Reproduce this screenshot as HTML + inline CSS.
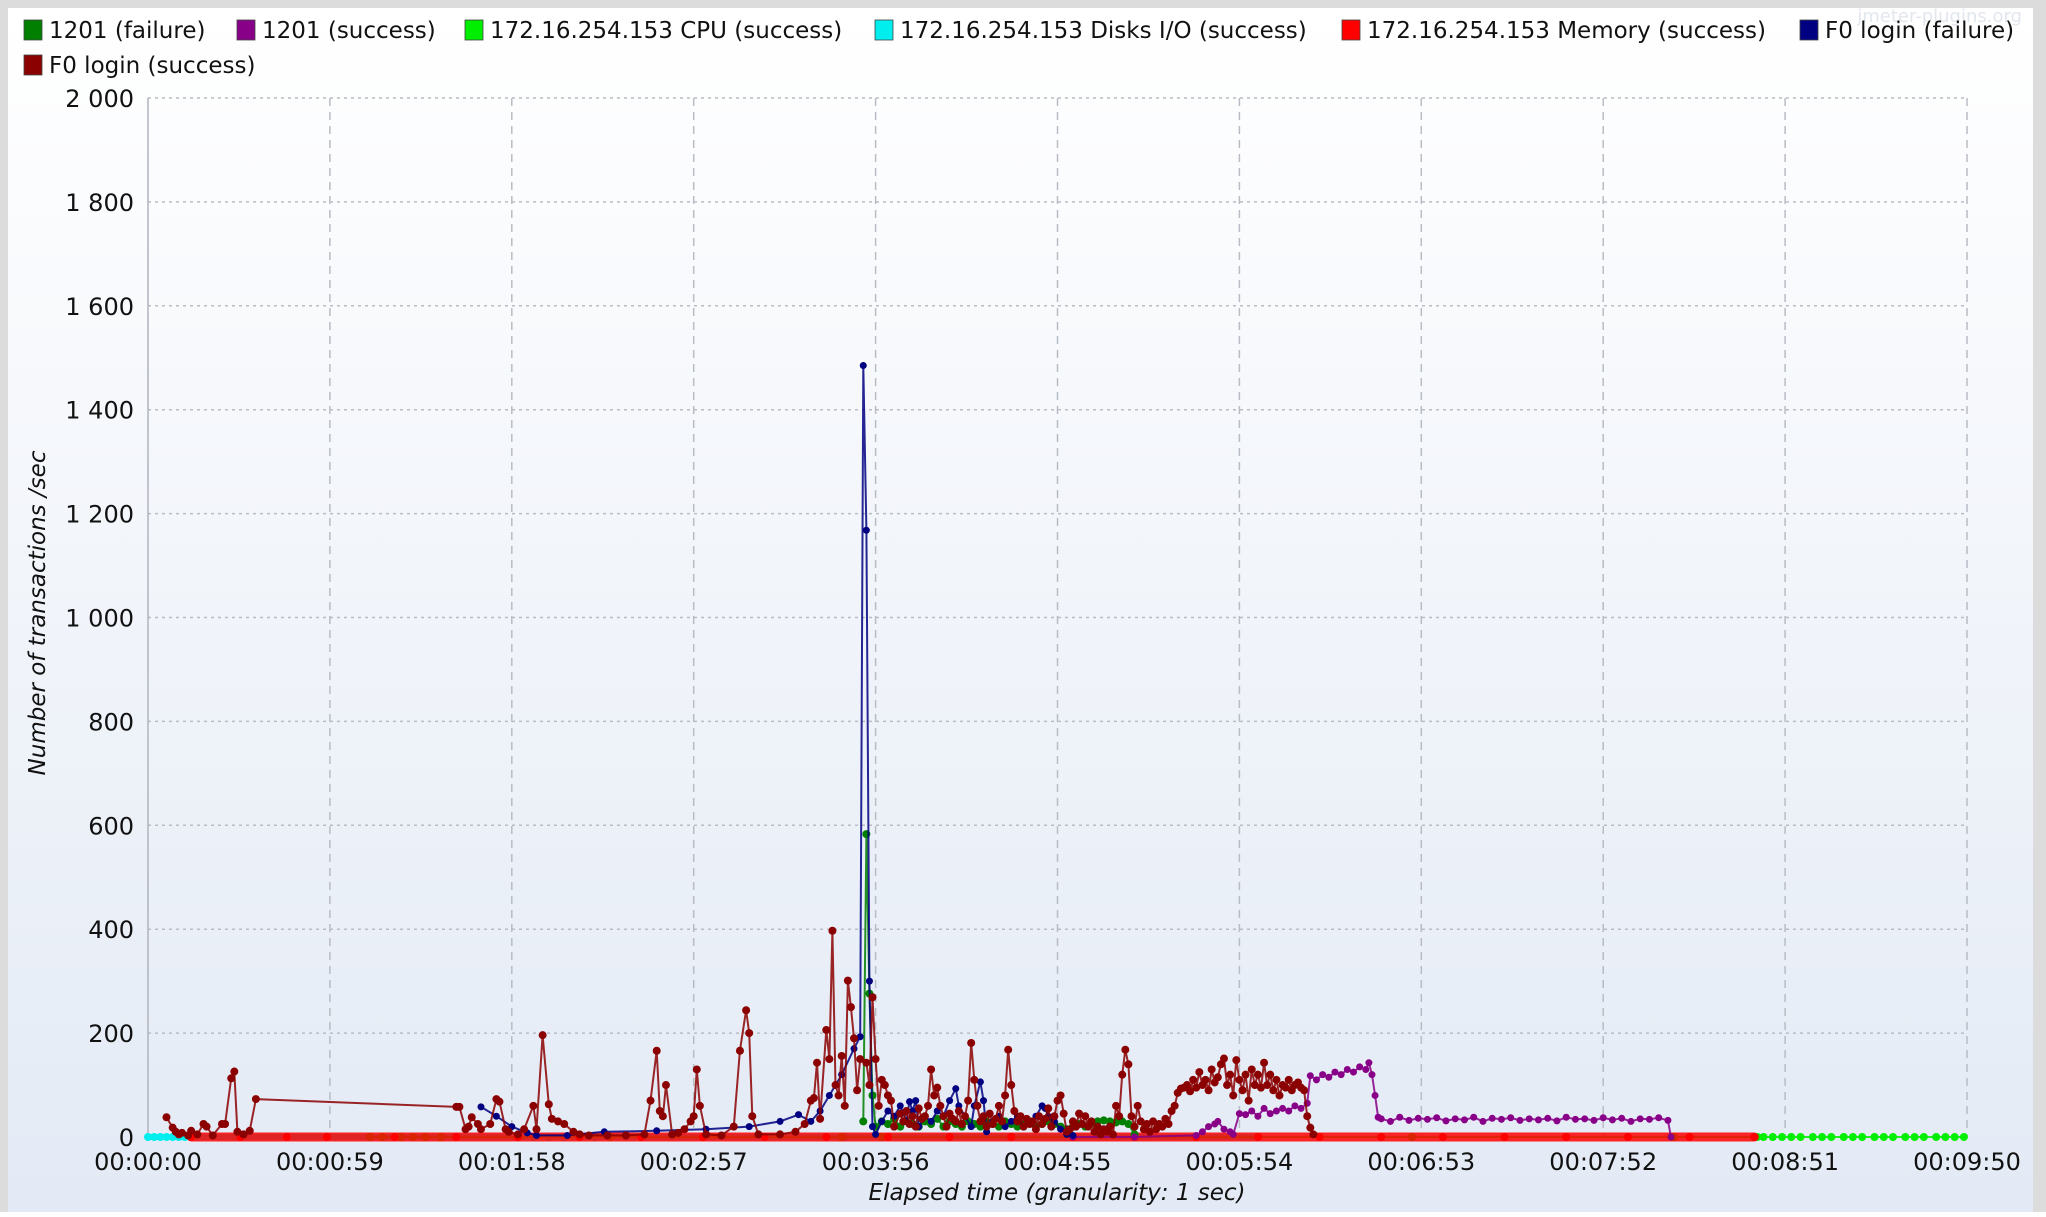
<!DOCTYPE html>
<html><head><meta charset="utf-8"><style>
html,body{margin:0;padding:0;width:2046px;height:1212px;overflow:hidden;background:#fff;}
#wrap{position:absolute;left:0;top:0;width:2046px;height:1212px;}
text{font-family:"DejaVu Sans","Liberation Sans",sans-serif;}
</style></head><body>
<div id="wrap">
<svg id="chart" width="2046" height="1212" xmlns="http://www.w3.org/2000/svg">
<defs><linearGradient id="bg" x1="0" y1="0" x2="0" y2="1"><stop offset="0" stop-color="#ffffff"/><stop offset="1" stop-color="#e3eaf5"/></linearGradient></defs>
<rect x="0" y="0" width="2046" height="1212" fill="#dcdcdc"/>
<rect x="8" y="8" width="2025" height="1204" fill="url(#bg)"/>
<text x="2022" y="22" font-size="18" fill="#e2e6ee" text-anchor="end">jmeter-plugins.org</text>
<g id="grid"></g><g id="axes"></g><g id="series"></g><g id="legend"></g>
</svg></div>
<script>
const tickTimes=[0,59,118,177,236,295,354,413,472,531,590];
const tickTimeLabels=["00:00:00","00:00:59","00:01:58","00:02:57","00:03:56","00:04:55","00:05:54","00:06:53","00:07:52","00:08:51","00:09:50"];
const yTicks=[0,200,400,600,800,1000,1200,1400,1600,1800,2000];
const yTickLabels=["0","200","400","600","800","1 000","1 200","1 400","1 600","1 800","2 000"];
const seriesNames=["1201  (failure)","1201  (success)","172.16.254.153 CPU (success)","172.16.254.153 Disks I/O (success)","172.16.254.153 Memory (success)","F0 login (failure)","F0 login (success)"];
const seriesColors=["#007f00","#880088","#00ee00","#00eeee","#ff0000","#000080","#8b0000"];

const cpuT=[72,76,82,86,90,95,150,160,225,238,410,495,522,524,527,530,533,536,540,543,546,550,553,556,560,563,566,570,573,576,580,583,586,589];
const cpuV=[0,0,0,0,0,0,0,0,0,0,0,0,0,0,0,0,0,0,0,0,0,0,0,0,0,0,0,0,0,0,0,0,0,0];
const diskT=[0,2,4,6,8,10,12,125,130,135,140,145,226,360];
const diskV=[0,0,0,0,0,0,0,0,0,0,0,0,0,0];
const memT=[14,30,45,58,80,100,120,140,160,180,200,220,240,260,280,300,320,340,360,380,400,420,440,460,480,500,521];
const memV=[0,0,0,0,0,0,0,0,0,0,0,0,0,0,0,0,0,0,0,0,0,0,0,0,0,0,0];
const f1T=[232,233,234,235,236,238,240,242,244,246,248,250,252,254,256,258,260,262,264,266,268,270,272,274,276,278,280,282,284,286,288,290,292,294,296,298,300,302,304,306,308,310,312,314,316,318,320];
const f1V=[30,583,276,80,20,30,25,35,20,30,25,20,30,25,35,20,30,25,20,30,25,20,30,25,20,30,25,20,25,30,20,25,30,25,20,15,20,25,20,28,30,32,30,28,30,25,5];
const s1T=[300,320,340,342,344,346,347,349,351,352,354,356,358,360,362,364,366,368,370,372,374,376,377,379,381,383,385,387,389,391,393,395,396,397,398,399,400,403,406,409,412,415,418,421,424,427,430,433,436,439,442,445,448,451,454,457,460,463,466,469,472,475,478,481,484,487,490,493,494];
const s1V=[0,0,3,10,20,25,30,15,10,5,45,43,50,40,55,45,50,55,50,60,55,65,118,110,120,115,125,120,130,125,135,130,143,120,80,38,35,30,38,32,36,34,37,31,35,33,38,30,36,34,37,32,35,33,36,31,38,34,35,32,37,33,36,30,35,34,37,32,0];
const f0fT=[108,113,118,123,126,136,148,165,181,195,205,211,215,218,221,225,229,231,232,233,234,235,236,238,240,242,244,246,247,248,249,250,252,254,256,258,260,262,263,265,267,268,270,271,272,274,276,278,280,282,284,286,288,290,291,292,294,296,298,300];
const f0fV=[58,40,20,8,3,3,10,12,15,20,30,43,30,50,80,120,170,193,1485,1168,300,20,5,30,50,40,60,30,68,50,70,20,40,30,50,40,70,93,60,40,20,60,106,70,10,30,40,20,30,40,20,30,40,60,55,40,30,15,5,3];
const f0sT=[6,8,9,10,11,13,14,16,18,19,21,24,25,27,28,29,31,33,35,100,101,103,104,105,107,108,111,113,114,116,117,120,122,125,126,128,130,131,133,135,138,140,143,149,155,161,163,165,166,167,168,170,172,174,176,177,178,179,181,186,190,192,194,195,196,198,205,210,213,215,216,217,218,220,221,222,223,224,225,226,227,228,229,230,231,233,234,235,236,237,238,239,240,241,242,244,245,246,247,248,249,250,251,252,253,254,255,256,257,258,259,260,261,262,263,264,265,266,267,268,269,270,271,272,273,274,275,276,277,278,279,280,281,282,283,284,285,286,287,288,289,290,291,292,293,294,295,296,297,298,299,300,301,302,303,304,305,306,307,308,309,310,311,312,313,314,315,316,317,318,319,320,321,322,323,324,325,326,327,328,329,330,331,332,333,334,335,336,337,338,339,340,341,342,343,344,345,346,347,348,349,350,351,352,353,354,355,356,357,358,359,360,361,362,363,364,365,366,367,368,369,370,371,372,373,374,375,376,377,378];
const f0sV=[38,18,10,5,8,3,12,5,25,20,3,25,25,113,126,10,5,12,73,58,58,15,20,38,25,15,25,73,68,15,10,5,15,60,15,196,63,35,30,25,10,5,3,3,3,5,70,166,50,40,100,5,8,15,30,40,130,60,5,3,20,166,244,200,40,5,5,10,25,70,75,143,35,206,150,397,100,80,156,60,301,250,190,90,150,143,100,269,150,60,110,100,80,70,20,45,30,50,25,40,20,55,35,40,60,130,80,95,60,40,20,45,35,30,50,25,40,70,181,110,60,30,40,20,45,25,35,60,30,80,168,100,50,30,40,20,35,25,30,15,40,25,35,55,20,40,70,80,45,10,15,30,20,45,25,40,20,30,10,20,5,15,10,20,5,60,40,120,168,140,40,20,60,30,15,25,10,30,15,25,20,35,25,50,60,85,93,95,100,88,110,95,125,100,110,90,130,105,115,140,151,100,120,80,148,110,90,120,70,130,100,120,95,143,100,120,90,110,80,100,95,110,90,100,105,95,90,40,18,5];

const NS="http://www.w3.org/2000/svg";
const X0=148,X1=1967,Y0=1137,Y1=98,TMAX=590,VMAX=2000;
function xs(t){return X0+(X1-X0)*t/TMAX;}
function ys(v){return Y0-(Y0-Y1)*v/VMAX;}
function mk(tag,attrs,parent){const e=document.createElementNS(NS,tag);for(const k in attrs)e.setAttribute(k,attrs[k]);parent.appendChild(e);return e;}
const grid=document.getElementById('grid'),axes=document.getElementById('axes'),ser=document.getElementById('series'),leg=document.getElementById('legend');

yTicks.forEach((v,i)=>{
  if(v>0){const l=mk('line',{x1:X0,x2:X1,y1:ys(v),y2:ys(v),stroke:'#b8bcc4','stroke-width':1.5,'stroke-dasharray':'3,4'},grid);
  
  }
  const t=mk('text',{x:X0-14,y:ys(v)+9,'font-size':24,'text-anchor':'end',fill:'#111'},axes);t.textContent=yTickLabels[i];
  
  
});
tickTimes.forEach((s,i)=>{
  if(s>0){const l=mk('line',{x1:xs(s),x2:xs(s),y1:Y1,y2:Y0,stroke:'#b8bcc4','stroke-width':1.5,'stroke-dasharray':'8,6'},grid);
  
  }
  const t=mk('text',{x:xs(s),y:Y0+33,'font-size':24,'text-anchor':'middle',fill:'#111'},axes);t.textContent=tickTimeLabels[i];
  
  
});
const ax=mk('line',{x1:X0,x2:X0,y1:Y1,y2:Y0,stroke:'#b0b4bc','stroke-width':1.5},axes);


const yt=mk('text',{x:0,y:0,'font-size':23,'font-style':'italic','text-anchor':'middle',fill:'#111',transform:'translate(45,613) rotate(-90)'},axes);yt.textContent='Number of transactions /sec';


const xt=mk('text',{x:1057,y:1200,'font-size':23,'font-style':'italic','text-anchor':'middle',fill:'#111'},axes);xt.textContent='Elapsed time (granularity: 1 sec)';



function drawSeries(T,V,color,name,lw,r){
  const g=mk('g',{},ser);
  
  
  const pts=T.map((t,i)=>xs(t).toFixed(1)+','+ys(V[i]).toFixed(1)).join(' ');
  mk('polyline',{points:pts,fill:'none',stroke:color,'stroke-width':lw,'stroke-linejoin':'round','stroke-linecap':'round','stroke-opacity':0.85},g);
  T.forEach((t,i)=>{const c=mk('circle',{cx:xs(t),cy:ys(V[i]),r:r,fill:color},g);
    
    });
}
drawSeries(diskT,diskV,seriesColors[3],'disks-io-series',6,4);
drawSeries(cpuT,cpuV,seriesColors[2],'cpu-series',2,4);
drawSeries(memT,memV,seriesColors[4],'memory-series',9,4);
drawSeries(f1T,f1V,seriesColors[0],'1201-failure-series',2,4);
drawSeries(s1T,s1V,seriesColors[1],'1201-success-series',2,3.5);
drawSeries(f0fT,f0fV,seriesColors[5],'f0-login-failure-series',2,3.5);
drawSeries(f0sT,f0sV,seriesColors[6],'f0-login-success-series',2,4);

const legPos=[[24,30],[237,30],[465,30],[875,30],[1342,30],[1800,30],[24,65]];
seriesNames.forEach((n,i)=>{
  const g=mk('g',{},leg);
  
  
  const [x,y]=legPos[i];
  mk('rect',{x:x,y:y-10,width:18,height:20,fill:seriesColors[i],stroke:'#444','stroke-width':0.8},g);
  const t=mk('text',{x:x+25,y:y+8,'font-size':23,fill:'#111'},g);t.textContent=n;
});
</script>
</body></html>
